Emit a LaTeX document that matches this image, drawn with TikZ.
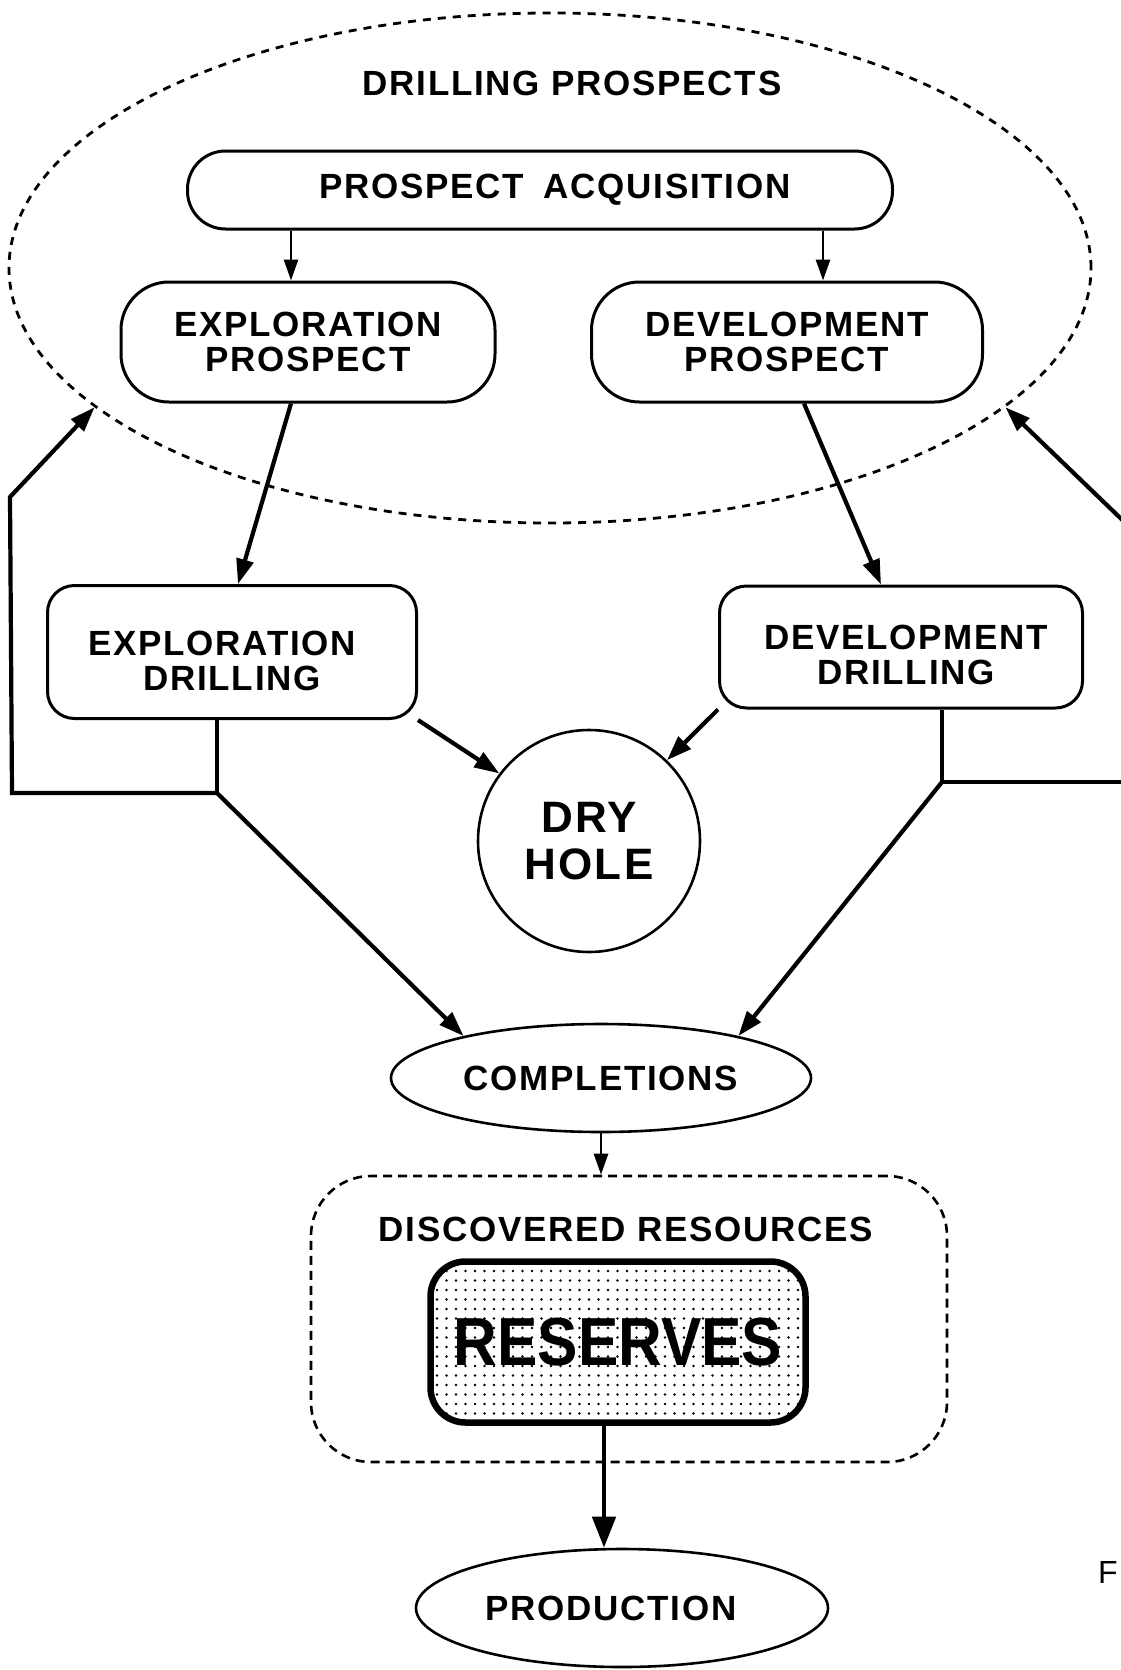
\documentclass[tikz,border=0pt]{standalone}
\usepackage{fontspec}
\setmainfont{Liberation Sans}
\newfontfamily\labfont{Liberation Sans}[LetterSpace=5]
\usetikzlibrary{arrows.meta,shapes.geometric,patterns.meta,calc}
\begin{document}
\begin{tikzpicture}[x=1pt,y=-1pt,
  lab/.style={font=\labfont\fontsize{35}{35}\selectfont\bfseries, align=center},
  box/.style={draw, line width=3pt, inner sep=0pt, lab},
  conn/.style={line width=4.2pt, line join=miter},
  arr/.style={conn, -{Triangle[length=25pt,width=17pt]}},
  bigarr/.style={line width=4.8pt, -{Triangle[length=31pt,width=23pt]}},
  thinarr/.style={line width=2.8pt, -{Triangle[length=21pt,width=14pt]}},
  ]
\useasboundingbox (0,0) rectangle (1120,1670);

% drilling prospects region
\node[draw, ellipse, line width=2.8pt, dash pattern=on 8pt off 7pt, minimum width=1082pt, minimum height=510pt, inner sep=0pt] (dp) at (550,268) {};
\node[lab] (dpt) at (572,83) {DRILLING PROSPECTS};

\node[box, rounded corners=38pt, minimum width=705pt, minimum height=78pt] (pa) at (540,190) {\hspace*{30pt}PROSPECT\hspace{0.55em}ACQUISITION};
\node[box, rounded corners=48pt, minimum width=374pt, minimum height=120pt] (ep) at (308,342) {EXPLORATION\\PROSPECT};
\node[box, rounded corners=48pt, minimum width=391pt, minimum height=120pt] (dvp) at (787,342) {DEVELOPMENT\\PROSPECT};

\node[box, rounded corners=27pt, minimum width=369pt, minimum height=133pt] (ed) at (232,652) {};
\node[lab] (edt) at ([yshift=-9pt]ed.center) {EXPLORATION\hspace*{20pt}\\DRILLING};
\node[box, rounded corners=27pt, minimum width=363pt, minimum height=122pt] (dd) at (901,647) {};
\node[lab] (ddt) at ([xshift=5pt,yshift=-8pt]dd.center) {DEVELOPMENT\\DRILLING};

\node[box, circle, line width=2.6pt, minimum size=222pt, font=\labfont\fontsize{44}{47}\selectfont\bfseries] (dry) at (589,841) {DRY\\HOLE};

\node[box, ellipse, line width=2.6pt, minimum width=420pt, minimum height=108pt] (comp) at (601,1078) {COMPLETIONS};

\node[draw, line width=2.6pt, dash pattern=on 9pt off 6pt, rounded corners=60pt, minimum width=636pt, minimum height=286pt, inner sep=0pt] (dr) at (629,1319) {};
\node[lab] (drt) at (626,1229) {DISCOVERED RESOURCES};
\node[draw, line width=6.5pt, rounded corners=35pt, pattern={Dots[distance=9.5pt,radius=1.4pt]}, minimum width=375pt, minimum height=161pt, inner sep=0pt, font=\fontsize{68}{68}\selectfont\bfseries] (res) at (618,1342) {\scalebox{0.89}[1]{RESERVES}};

\node[box, ellipse, line width=2.6pt, minimum width=412pt, minimum height=118pt] (prod) at (622,1608) {PRODUCTION\hspace*{22pt}};

\node[font=\fontsize{32}{32}\selectfont, anchor=base west, inner sep=0pt] (fcut) at (1098,1583) {F};

% junctions
\coordinate (lj) at (217,793);
\coordinate (lc) at (10,497);
\coordinate (rj) at (942,782);

% connectors
\draw[thinarr] ([xshift=-249pt]pa.south) -- ([xshift=-17pt]ep.north);
\draw[thinarr] ([xshift=283pt]pa.south) -- ([xshift=36pt]dvp.north);
\draw[arr] ([xshift=-17pt]ep.south) -- ([xshift=6pt]ed.north);
\draw[arr] ([xshift=17pt]dvp.south) -- ([xshift=-20pt]dd.north);
\draw[arr] (ed.south east) -- (dry.143);
\draw[arr] (dd.south west) -- (dry.46);

\draw[conn] ([xshift=-15pt]ed.south) -- (lj);
\draw[arr] (lj) -- (12,793) -- (lc) -- (dp.197.5);
\draw[arr] (lj) -- (comp.163.6);

\draw[conn] ([xshift=41pt]dd.south) -- (rj);
\draw[conn] (rj) -- (1140,782);
\draw[arr] (1140,537) -- (dp.343.5);
\draw[arr] (rj) -- (comp.17.2);

\draw[thinarr] (comp.south) -- (comp.south |- dr.north);
\draw[bigarr] ([xshift=-14pt]res.south) -- ([xshift=-14pt]res.south |- prod.north);
\end{tikzpicture}
\end{document}
